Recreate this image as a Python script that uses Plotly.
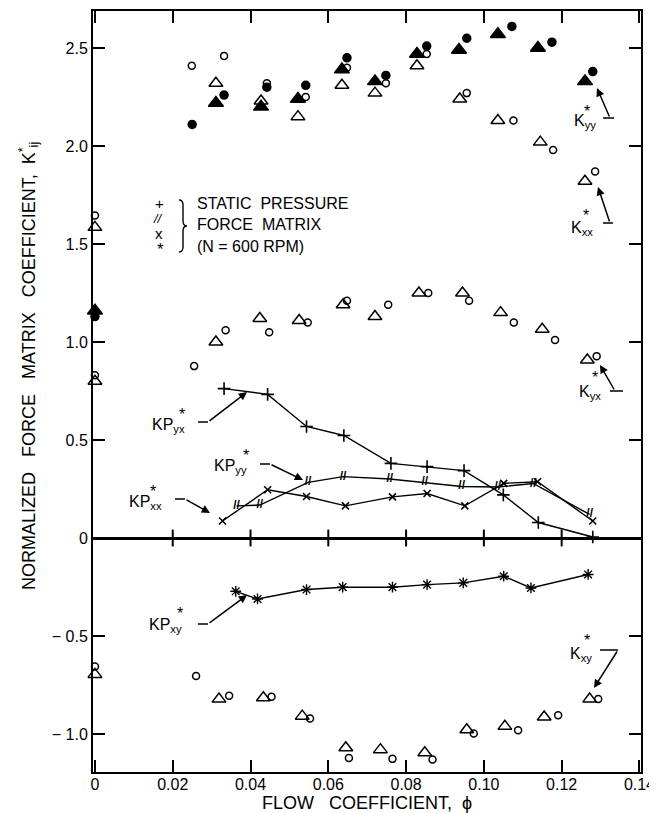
import plotly.graph_objects as go

# ---------------- data ----------------
# K*yy : filled triangles / filled circles
phi_kyy_tri = [0.0, 0.0311, 0.0427, 0.0522, 0.0635, 0.0720, 0.0828, 0.0936, 0.1036, 0.1139, 0.1260]
kyy_tri     = [1.16, 2.22, 2.20, 2.24, 2.39, 2.33, 2.47, 2.49, 2.57, 2.50, 2.33]
phi_kyy_cir = [0.0, 0.0250, 0.0332, 0.0442, 0.0542, 0.0648, 0.0748, 0.0853, 0.0956, 0.1072, 0.1175, 0.1280]
kyy_cir     = [1.13, 2.11, 2.26, 2.30, 2.31, 2.45, 2.36, 2.51, 2.55, 2.61, 2.53, 2.38]

# K*xx : open triangles / open circles (upper group)
phi_kxx_tri = [0.0, 0.0311, 0.0427, 0.0522, 0.0635, 0.0720, 0.0828, 0.0938, 0.1036, 0.1145, 0.1260]
kxx_tri     = [1.585, 2.32, 2.23, 2.15, 2.31, 2.27, 2.41, 2.24, 2.13, 2.02, 1.82]
phi_kxx_cir = [0.0, 0.0249, 0.0332, 0.0442, 0.0542, 0.0648, 0.0748, 0.0853, 0.0956, 0.1076, 0.1178, 0.1286]
kxx_cir     = [1.646, 2.41, 2.46, 2.32, 2.25, 2.40, 2.32, 2.47, 2.27, 2.13, 1.98, 1.87]

# K*yx : open triangles / open circles (middle group)
phi_kyx_tri = [0.0, 0.0311, 0.0424, 0.0525, 0.0638, 0.0720, 0.0833, 0.0945, 0.1043, 0.1150, 0.1266]
kyx_tri     = [0.80, 1.00, 1.12, 1.11, 1.19, 1.13, 1.25, 1.25, 1.15, 1.065, 0.908]
phi_kyx_cir = [0.0, 0.0255, 0.0336, 0.0448, 0.0547, 0.0648, 0.0754, 0.0857, 0.0962, 0.1077, 0.1183, 0.1290]
kyx_cir     = [0.83, 0.877, 1.06, 1.05, 1.10, 1.21, 1.19, 1.25, 1.21, 1.10, 1.01, 0.928]

# K*xy : open triangles / open circles (lower group)
phi_kxy_tri = [0.0, 0.0319, 0.0433, 0.0533, 0.0645, 0.0734, 0.0848, 0.0956, 0.1054, 0.1155, 0.1272]
kxy_tri     = [-0.696, -0.822, -0.815, -0.909, -1.07, -1.08, -1.096, -0.978, -0.961, -0.913, -0.822]
phi_kxy_cir = [0.0, 0.0260, 0.0345, 0.0454, 0.0553, 0.0653, 0.0765, 0.0868, 0.0974, 0.1088, 0.1191, 0.1294]
kxy_cir     = [-0.656, -0.704, -0.805, -0.81, -0.921, -1.123, -1.127, -1.13, -0.998, -0.981, -0.904, -0.822]

# static pressure force matrix (N = 600 RPM)
phi_kp_yx = [0.0332, 0.0444, 0.0544, 0.0640, 0.0761, 0.0854, 0.0949, 0.1050, 0.1140, 0.1280]
kp_yx     = [0.762, 0.733, 0.569, 0.523, 0.381, 0.364, 0.344, 0.220, 0.079, 0.005]
phi_kp_yy = [0.0364, 0.0424, 0.0548, 0.0638, 0.0758, 0.0848, 0.0943, 0.1036, 0.1127, 0.1272]
kp_yy     = [0.164, 0.168, 0.284, 0.313, 0.301, 0.284, 0.263, 0.260, 0.278, 0.120]
phi_kp_xx = [0.0328, 0.0444, 0.0544, 0.0644, 0.0765, 0.0854, 0.0951, 0.1051, 0.1138, 0.1280]
kp_xx     = [0.087, 0.246, 0.212, 0.164, 0.210, 0.227, 0.164, 0.279, 0.287, 0.087]
phi_kp_xy = [0.0362, 0.0418, 0.0544, 0.0637, 0.0765, 0.0854, 0.0947, 0.1051, 0.1121, 0.1268]
kp_xy     = [-0.272, -0.311, -0.263, -0.251, -0.251, -0.238, -0.229, -0.195, -0.255, -0.186]

x_ticks = [0, 0.02, 0.04, 0.06, 0.08, 0.10, 0.12, 0.14]
x_tick_text = ["0", "0.02", "0.04", "0.06", "0.08", "0.10", "0.12", "0.14"]
y_ticks = [-1.0, -0.5, 0, 0.5, 1.0, 1.5, 2.0, 2.5]
y_tick_text = ["\u2212 1.0", "\u2212 0.5", "0", "0.5", "1.0", "1.5", "2.0", "2.5"]

# ---------------- figure ----------------
FONT = "Liberation Sans, Arial, Helvetica, sans-serif"
OFF = 8                     # page body margin of the html page
W, H = 657 - OFF, 813 - OFF
PL, PR, PT, PB = 93, 641, 11, 772   # plot box in page pixels
L, R, T, B = PL - OFF, W + OFF - PR, PT - OFF, H + OFF - PB
XMIN, XMAX = -0.0005, 0.1404
YMIN, YMAX = -1.194, 2.689


def X(px):
    return XMIN + (px - PL) / (PR - PL) * (XMAX - XMIN)


def Y(py):
    return YMAX - (py - PT) / (PB - PT) * (YMAX - YMIN)


def XP(px):
    return (px - PL) / (PR - PL)


def YP(py):
    return (PB - py) / (PB - PT)


fig = go.Figure()


def pts(xs, ys, symbol, size):
    fig.add_trace(go.Scatter(
        x=xs, y=ys, mode="markers", cliponaxis=False, showlegend=False,
        marker=dict(symbol=symbol, size=size, color="black",
                    line=dict(color="black", width=1.5))))


pts(phi_kyy_tri, kyy_tri, "triangle-up", 13)
pts(phi_kyy_cir, kyy_cir, "circle", 8)
pts(phi_kxx_tri, kxx_tri, "triangle-up-open", 12)
pts(phi_kxx_cir, kxx_cir, "circle-open", 7)
pts(phi_kyx_tri, kyx_tri, "triangle-up-open", 12)
pts(phi_kyx_cir, kyx_cir, "circle-open", 7)
pts(phi_kxy_tri, kxy_tri, "triangle-up-open", 12)
pts(phi_kxy_cir, kxy_cir, "circle-open", 7)

# KP lines
fig.add_trace(go.Scatter(x=phi_kp_yx, y=kp_yx, mode="lines+markers", showlegend=False,
                         line=dict(color="black", width=1.4),
                         marker=dict(symbol="cross-thin", size=9, color="black",
                                     line=dict(color="black", width=1.6))))
fig.add_trace(go.Scatter(x=phi_kp_yy, y=kp_yy, mode="lines+text", showlegend=False,
                         text=["<b>//</b>"] * len(phi_kp_yy), textposition="middle center",
                         textfont=dict(family=FONT, size=12, color="black"),
                         line=dict(color="black", width=1.4)))
fig.add_trace(go.Scatter(x=phi_kp_xx, y=kp_xx, mode="lines+markers", showlegend=False,
                         line=dict(color="black", width=1.4),
                         marker=dict(symbol="x-thin", size=7, color="black",
                                     line=dict(color="black", width=1.6))))
fig.add_trace(go.Scatter(x=phi_kp_xy, y=kp_xy, mode="lines+markers", showlegend=False,
                         line=dict(color="black", width=1.4),
                         marker=dict(symbol="asterisk", size=9, color="black",
                                     line=dict(color="black", width=1.4))))

# tick crosses on the zero line
fig.add_trace(go.Scatter(x=x_ticks[1:-1], y=[0] * (len(x_ticks) - 2), mode="markers",
                         showlegend=False, hoverinfo="skip",
                         marker=dict(symbol="line-ns", size=12,
                                     line=dict(color="black", width=2))))

ann = []
shapes = []


def text(px, py, s, size=16, xanchor="left", yanchor="middle"):
    ann.append(dict(x=X(px), y=Y(py), xref="x", yref="y", text=s, showarrow=False,
                    xanchor=xanchor, yanchor=yanchor,
                    font=dict(family=FONT, size=size, color="black")))


def arrow(hx, hy, tx, ty):
    ann.append(dict(x=X(hx), y=Y(hy), ax=X(tx), ay=Y(ty), xref="x", yref="y",
                    axref="x", ayref="y", text="", showarrow=True, arrowhead=2,
                    arrowsize=1.1, arrowwidth=1.5, arrowcolor="black", standoff=0))


def seg(x0, y0, x1, y1):
    shapes.append(dict(type="line", xref="x", yref="y", x0=X(x0), y0=Y(y0),
                       x1=X(x1), y1=Y(y1), line=dict(color="black", width=1.5)))


def label(main, sub, kx, ky, sx, sy, size=16):
    text(kx, ky, main + "<sub>" + sub + "</sub>", size=size)
    text(sx, sy, "*", size=size, xanchor="center")


# K*yy
label("K", "yy", 572, 121, 587, 111)
arrow(597, 88, 610, 118); seg(603, 118, 614, 118)
# K*xx
label("K", "xx", 569, 228, 586, 215)
arrow(598, 187, 610, 223); seg(603, 223, 613, 223)
# K*yx
label("K", "yx", 577, 392, 595, 377)
arrow(600, 365, 615, 391); seg(610, 391, 623, 391)
# K*xy
label("K", "xy", 568, 654, 587, 640)
arrow(594, 688, 618, 650); seg(600, 650, 618, 650)
# KP*yx
label("KP", "yx", 150, 425, 182, 414)
arrow(247, 392, 208, 422); seg(198, 422, 208, 422)
# KP*yy
label("KP", "yy", 212, 466, 246, 455)
arrow(303, 480, 270, 464); seg(260, 464, 270, 464)
# KP*xx
label("KP", "xx", 127, 502, 153, 491)
arrow(210, 513, 185, 499); seg(175, 499, 185, 499)
# KP*xy
label("KP", "xy", 147, 625, 180, 613)
arrow(247, 595, 208, 624); seg(198, 624, 208, 624)

# legend block
text(159, 203, "+", size=15, xanchor="center")
text(158, 218, "<i>//</i>", size=13, xanchor="center")
text(159, 233, "x", size=15, xanchor="center")
text(160, 249, "*", size=17, xanchor="center")
text(195, 203, "STATIC\u00a0\u00a0PRESSURE", size=16)
text(195, 224, "FORCE\u00a0\u00a0MATRIX", size=16)
text(195, 246, "(N = 600 RPM)", size=16)
# brace
path = (f"M {X(179)},{Y(200)} Q {X(183)},{Y(200)} {X(183)},{Y(205)} "
        f"L {X(183)},{Y(221)} Q {X(183)},{Y(226)} {X(187)},{Y(226)} "
        f"Q {X(183)},{Y(226)} {X(183)},{Y(231)} L {X(183)},{Y(247)} "
        f"Q {X(183)},{Y(252)} {X(179)},{Y(252)}")
shapes.append(dict(type="path", xref="x", yref="y", path=path,
                   line=dict(color="black", width=1.4)))

# axis titles
ann.append(dict(x=XP(260), y=YP(803), xref="paper", yref="paper",
                text="FLOW\u00a0\u00a0\u00a0COEFFICIENT,\u00a0\u00a0\u03d5", showarrow=False,
                xanchor="left", yanchor="middle",
                font=dict(family=FONT, size=18, color="black")))
ann.append(dict(x=XP(28), y=YP(366), xref="paper", yref="paper",
                text="NORMALIZED\u00a0\u00a0\u00a0FORCE\u00a0\u00a0\u00a0MATRIX\u00a0\u00a0\u00a0COEFFICIENT,\u00a0\u00a0K<sup>*</sup><sub>ij</sub>",
                showarrow=False, textangle=-90, xanchor="center", yanchor="middle",
                font=dict(family=FONT, size=18, color="black")))

axis_common = dict(showline=True, linecolor="black", linewidth=2, mirror="ticks",
                   ticks="inside", ticklen=12, tickwidth=2, tickcolor="black",
                   showgrid=False, automargin=False, ticklabeloverflow="allow",
                   tickfont=dict(family=FONT, size=16, color="black"))

fig.update_layout(
    width=W, height=H,
    margin=dict(l=L, r=R, t=T, b=B, pad=0),
    paper_bgcolor="white", plot_bgcolor="white",
    showlegend=False,
    xaxis=dict(range=[XMIN, XMAX], tickvals=x_ticks, ticktext=x_tick_text,
               zeroline=False, ticklabelstandoff=-3, **axis_common),
    yaxis=dict(range=[YMIN, YMAX], tickvals=y_ticks, ticktext=y_tick_text,
               zeroline=True, zerolinecolor="black", zerolinewidth=2.5, **axis_common),
    annotations=ann, shapes=shapes,
)

fig.write_html("out.html")
